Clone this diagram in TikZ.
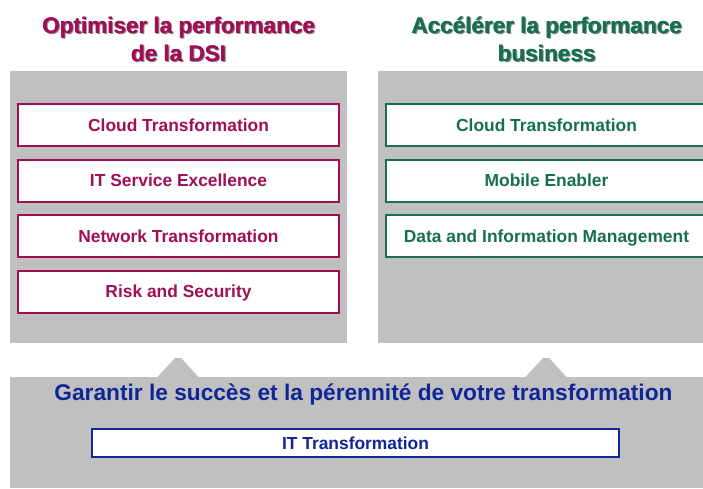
\documentclass[tikz,border=0pt]{standalone}
\usepackage{fontspec}
\setmainfont{Liberation Sans}
\definecolor{dsi}{RGB}{160,14,86}
\definecolor{biz}{RGB}{22,112,78}
\definecolor{found}{RGB}{16,38,150}
\definecolor{panel}{RGB}{192,192,192}
\begin{document}
\begin{tikzpicture}[x=1pt,y=-1pt,
  itembox/.style={draw=#1, line width=2pt, fill=white, text=#1,
    minimum height=42pt, inner sep=0pt,
    font=\fontsize{17.4}{20}\selectfont\bfseries,
    text height=12.5pt, text depth=0pt},
  wide/.style={minimum width=321pt},
  heading/.style={align=center, inner sep=0pt, text=#1,
    font=\fontsize{22.5}{28}\selectfont\bfseries},
  headshadow/.style={align=center, inner sep=0pt, text=black!45,
    font=\fontsize{22.5}{28}\selectfont\bfseries}]
\useasboundingbox (0,0) rectangle (703,488);
\clip (0,0) rectangle (703,488);

% grey panels and the two pointers linking them to the base
\fill[panel] (10,71) rectangle (347,343);
\fill[panel] (378,71) rectangle (715,343);
\fill[panel] (10,377) rectangle (717,488);
\fill[panel] (157,377.5) -- (175,358) -- (181,358) -- (199,377.5) -- cycle;
\fill[panel] (525,377.5) -- (543,358) -- (549,358) -- (567,377.5) -- cycle;

% column headings (base anchor sits on the second line), with a soft drop shadow
\node[headshadow, anchor=base] (tlsh) at (180,62.5) {Optimiser la performance\\de la DSI};
\node[heading=dsi, anchor=base] (tlb) at (179,61) {Optimiser la performance\\de la DSI};
\node[heading=dsi, anchor=base] (tl) at (178.5,61) {Optimiser la performance\\de la DSI};
\node[headshadow, anchor=base] (trsh) at (548,62.5) {Accélérer la performance\\business};
\node[heading=biz, anchor=base] (trb) at (547,61) {Accélérer la performance\\business};
\node[heading=biz, anchor=base] (tr) at (546.5,61) {Accélérer la performance\\business};

% IT department offers
\node[itembox=dsi, wide] (l1) at (178.5,125) {Cloud Transformation};
\node[itembox=dsi, wide] (l2) at (178.5,180.5) {IT Service Excellence};
\node[itembox=dsi, wide] (l3) at (178.5,236) {Network Transformation};
\node[itembox=dsi, wide] (l4) at (178.5,291.5) {Risk and Security};

% business offers
\node[itembox=biz, wide] (r1) at (546.5,125) {Cloud Transformation};
\node[itembox=biz, wide] (r2) at (546.5,180.5) {Mobile Enabler};
\node[itembox=biz, wide] (r3) at (546.5,236) {Data and Information Management};

% foundation
\node[anchor=base, inner sep=0pt, text=found,
  font=\fontsize{22.7}{26}\selectfont\bfseries] (bt) at (363.5,400)
  {Garantir le succès et la pérennité de votre transformation};
\node[itembox=found, minimum width=527pt, minimum height=28pt] (it) at (355.5,443) {IT Transformation};
\end{tikzpicture}
\end{document}
